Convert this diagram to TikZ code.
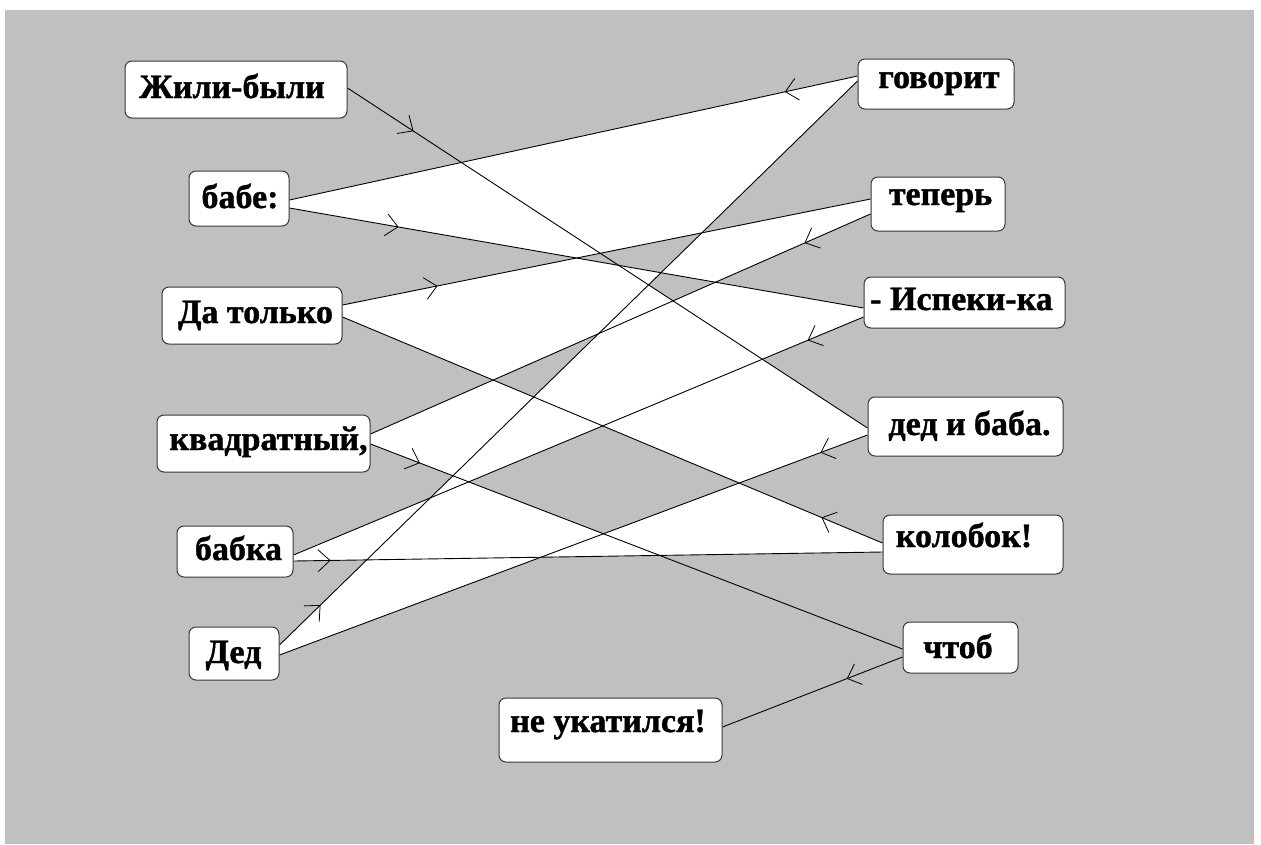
\documentclass[tikz,border=0pt]{standalone}
\usepackage{fontspec}
\setmainfont{Liberation Serif}[BoldFeatures={FakeBold=1.2}]
\usetikzlibrary{calc,arrows.meta,decorations.markings}
\definecolor{bgc}{RGB}{192,192,192}
\definecolor{edgec}{RGB}{55,55,55}
\pgfdeclarelayer{backlayer}
\pgfdeclarelayer{linelayer}
\pgfsetlayers{backlayer,linelayer,main}
\begin{document}
\begin{tikzpicture}[x=1pt,y=-1pt,
  box/.style={draw=edgec, line width=1pt, fill=white, rounded corners=7pt, inner sep=0pt},
  txt/.style={font=\fontsize{34}{40}\selectfont\bfseries, inner sep=0pt, anchor=base},
  conn/.style={line width=0.9pt, draw=black},
  arr/.style={postaction={decorate}, decoration={markings, mark=at position #1 with {\arrow[line width=0.8pt]{Straight Barb[length=12pt,width=22pt]}}}}
]
\useasboundingbox (0,0) rectangle (1261,844);
% boxes
\node[box, minimum width=222pt, minimum height=57pt] (zhili) at (236,89.5) {};
\node[box, minimum width=100pt, minimum height=55pt] (babe) at (239,198.5) {};
\node[box, minimum width=180pt, minimum height=57pt] (da) at (252,315.5) {};
\node[box, minimum width=213pt, minimum height=57pt] (kv) at (263.5,443.5) {};
\node[box, minimum width=116pt, minimum height=51pt] (babka) at (235,551.5) {};
\node[box, minimum width=90pt, minimum height=53pt] (ded) at (234,653.5) {};
\node[box, minimum width=223pt, minimum height=64pt] (neuk) at (610.5,730) {};
\node[box, minimum width=156pt, minimum height=50pt] (gov) at (936,84) {};
\node[box, minimum width=134pt, minimum height=54pt] (tep) at (938,204) {};
\node[box, minimum width=201pt, minimum height=51pt] (isp) at (964.5,302.5) {};
\node[box, minimum width=195pt, minimum height=59pt] (db) at (965.5,426.5) {};
\node[box, minimum width=180pt, minimum height=59pt] (kol) at (973,544.5) {};
\node[box, minimum width=115pt, minimum height=51pt] (chtob) at (960.5,647.5) {};
% texts
\node[txt] (zhiliT) at (232,98) {Жили-были};
\node[txt] (babeT) at (240,208) {бабе:};
\node[txt] (daT) at (255.5,323) {Да только};
\node[txt] (kvT) at (268.5,450) {квадратный,};
\node[txt] (babkaT) at (238.5,560) {бабка};
\node[txt] (dedT) at (233.5,663) {Дед};
\node[txt] (neukT) at (608,732) {не укатился!};
\node[txt] (govT) at (939,88) {говорит};
\node[txt] (tepT) at (940.5,205) {теперь};
\node[txt] (ispT) at (961.5,310) {- Испеки-ка};
\node[txt] (dbT) at (969.5,435) {дед и баба.};
\node[txt] (kolT) at (964,547) {колобок!};
\node[txt] (chtobT) at (958,658) {чтоб};
% connection points
\coordinate (Jo) at ($(zhili.east)+(0,-1.5)$);
\coordinate (Din) at ($(db.west)+(0,1.5)$);
\coordinate (Dout) at ($(db.west)+(0,8.5)$);
\coordinate (Ddin) at ($(ded.east)+(0,1.5)$);
\coordinate (Ddout) at ($(ded.east)+(0,-8.5)$);
\coordinate (Gin) at ($(gov.west)+(0,-3)$);
\coordinate (Gout) at ($(gov.west)+(0,-8)$);
\coordinate (Bin) at ($(babe.east)+(0,1.5)$);
\coordinate (Bout) at ($(babe.east)+(0,9.5)$);
\coordinate (Iin) at ($(isp.west)+(0,5.5)$);
\coordinate (Iout) at ($(isp.west)+(0,14.5)$);
\coordinate (Bkin) at ($(babka.east)+(0,3.5)$);
\coordinate (Bkout) at ($(babka.east)+(0,9.5)$);
\coordinate (Kin) at ($(kol.west)+(0,7.5)$);
\coordinate (Kout) at ($(kol.west)+(0,-1.5)$);
\coordinate (Dain) at ($(da.east)+(0,1.5)$);
\coordinate (Daout) at ($(da.east)+(0,-10.5)$);
\coordinate (Tin) at ($(tep.west)+(0,-5)$);
\coordinate (Tout) at ($(tep.west)+(0,10)$);
\coordinate (Kvin) at ($(kv.east)+(0,-9.5)$);
\coordinate (Kvout) at ($(kv.east)+(0,0.5)$);
\coordinate (Chin) at ($(chtob.west)+(0,1.5)$);
\coordinate (Chout) at ($(chtob.west)+(0,9.5)$);
\coordinate (Nin) at ($(neuk.east)+(0,-3)$);
% crossings
\coordinate (H) at (intersection of Ddout--Gin and Daout--Tin);
\coordinate (O) at (intersection of Bout--Iin and Tout--Kvin);
\coordinate (F) at (intersection of Jo--Din and Iout--Bkin);
\coordinate (T) at (intersection of Dout--Ddin and Kout--Dain);
\coordinate (S) at (intersection of Dout--Ddin and Bkout--Kin);
\coordinate (M) at (intersection of Ddout--Gin and Bkout--Kin);
\coordinate (K) at (intersection of Ddout--Gin and Iout--Bkin);
\coordinate (Lx) at (intersection of Ddout--Gin and Kvout--Chin);
\coordinate (R) at (intersection of Kout--Dain and Tout--Kvin);
\coordinate (N) at (intersection of Bout--Iin and Daout--Tin);
\coordinate (G) at (intersection of Ddout--Gin and Bout--Iin);
\coordinate (D) at (intersection of Jo--Din and Ddout--Gin);
\coordinate (E) at (intersection of Jo--Din and Tout--Kvin);
\coordinate (I) at (intersection of Ddout--Gin and Tout--Kvin);
\coordinate (J) at (intersection of Ddout--Gin and Kout--Dain);
\coordinate (P) at (intersection of Iout--Bkin and Kout--Dain);
\coordinate (Q) at (intersection of Iout--Bkin and Kvout--Chin);
\coordinate (U) at (intersection of Dout--Ddin and Kvout--Chin);
\begin{pgfonlayer}{backlayer}
  \fill[white] (0,0) rectangle (1261,844);
  \fill[bgc] (5,10) rectangle (1254,844);
  \fill[white] (Bin) -- (Gout) -- (Gin) -- (H) -- (Tin) -- (Tout) -- (O) -- (Iin) -- (Iout) -- (F) -- (Din) -- (Dout) -- (T) -- (Kout) -- (Kin) -- (S) -- (Ddin) -- (Ddout) -- (M) -- (Bkout) -- (Bkin) -- (K) -- (Lx) -- (Kvout) -- (Kvin) -- (R) -- (Dain) -- (Daout) -- (N) -- (Bout) -- cycle;
  \fill[bgc] (Q) -- (P) -- (T) -- (U) -- cycle;
  \fill[bgc] (R) -- (I) -- (J) -- cycle;
  \fill[bgc] (N) -- (H) -- (G) -- cycle;
  \fill[bgc] (D) -- (G) -- (O) -- (E) -- cycle;
\end{pgfonlayer}
\begin{pgfonlayer}{linelayer}
  \draw[conn, arr=0.127] (Jo) -- (Din);
  \draw[conn, arr=0.08] (Dout) -- (Ddin);
  \draw[conn, arr=0.071] (Ddout) -- (Gin);
  \draw[conn, arr=0.128] (Gout) -- (Bin);
  \draw[conn, arr=0.19] (Bout) -- (Iin);
  \draw[conn, arr=0.098] (Iout) -- (Bkin);
  \draw[conn, arr=0.063] (Bkout) -- (Kin);
  \draw[conn, arr=0.113] (Kout) -- (Dain);
  \draw[conn, arr=0.18] (Daout) -- (Tin);
  \draw[conn, arr=0.132] (Tout) -- (Kvin);
  \draw[conn, arr=0.093] (Kvout) -- (Chin);
  \draw[conn, arr=0.31] (Chout) -- (Nin);
\end{pgfonlayer}
\end{tikzpicture}
\end{document}
